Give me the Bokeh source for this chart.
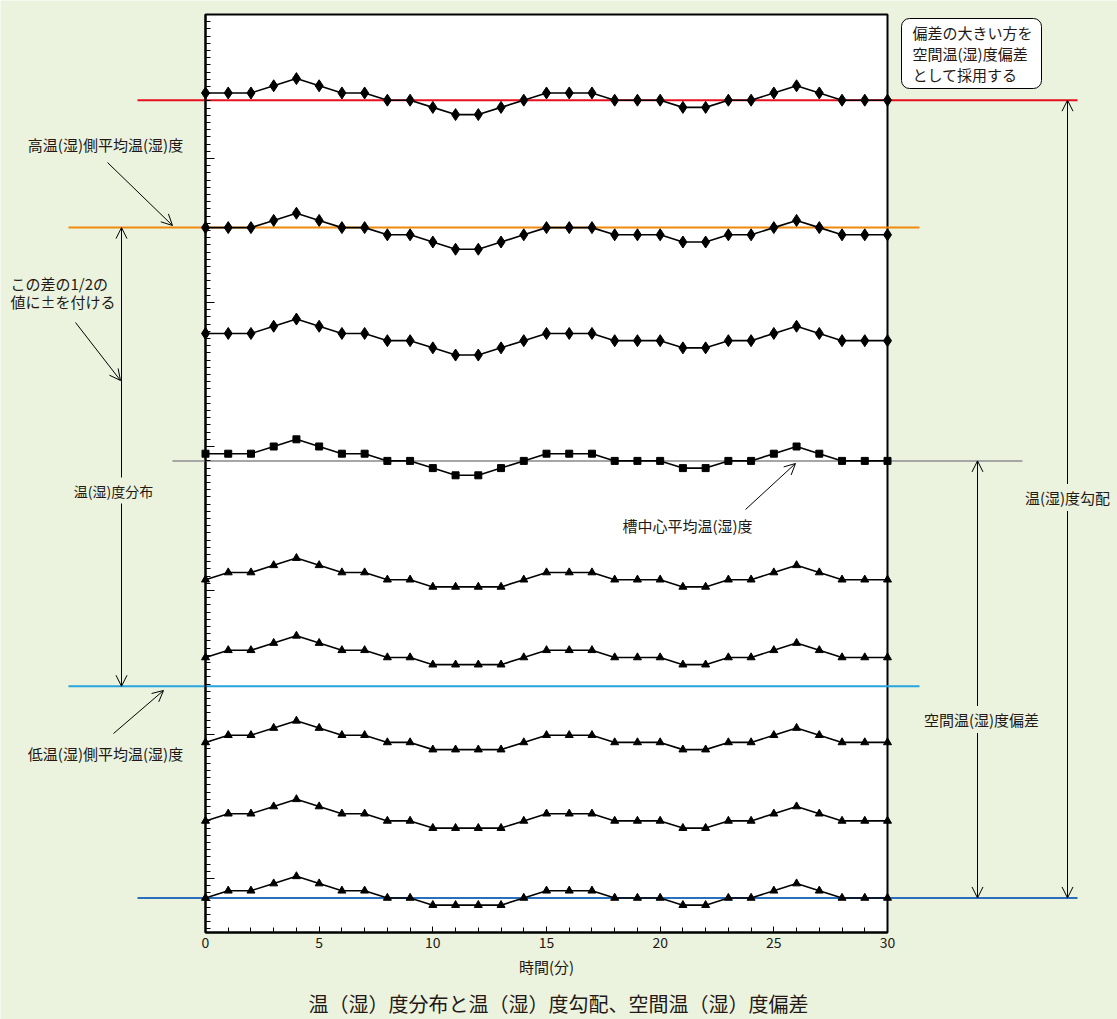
from bokeh.plotting import figure
from bokeh.models import (Range1d, LinearAxis, SingleIntervalTicker, FixedTicker,
                          Arrow, OpenHead, Label, BoxAnnotation)
from bokeh.embed import file_html
from bokeh.resources import INLINE

# ---------------- data ----------------
minutes = list(range(31))

# high-side diamonds
diamond_1 = [116.6, 116.6, 116.6, 117.6, 118.6, 117.6, 116.6, 116.6, 115.6, 115.6, 114.6, 113.6, 113.6, 114.6, 115.6, 116.6,
             116.6, 116.6, 115.6, 115.6, 115.6, 114.6, 114.6, 115.6, 115.6, 116.6, 117.6, 116.6, 115.6, 115.6, 115.6]
diamond_2 = [97.9, 97.9, 97.9, 98.9, 99.9, 98.9, 97.9, 97.9, 96.9, 96.9, 95.9, 94.9, 94.9, 95.9, 96.9, 97.9,
             97.9, 97.9, 96.9, 96.9, 96.9, 95.9, 95.9, 96.9, 96.9, 97.9, 98.9, 97.9, 96.9, 96.9, 96.9]
diamond_3 = [83.2, 83.2, 83.2, 84.2, 85.2, 84.2, 83.2, 83.2, 82.2, 82.2, 81.2, 80.2, 80.2, 81.2, 82.2, 83.2,
             83.2, 83.2, 82.2, 82.2, 82.2, 81.2, 81.2, 82.2, 82.2, 83.2, 84.2, 83.2, 82.2, 82.2, 82.2]
# center squares
square_center = [66.5, 66.5, 66.5, 67.5, 68.5, 67.5, 66.5, 66.5, 65.5, 65.5, 64.5, 63.5, 63.5, 64.5, 65.5, 66.5,
                 66.5, 66.5, 65.5, 65.5, 65.5, 64.5, 64.5, 65.5, 65.5, 66.5, 67.5, 66.5, 65.5, 65.5, 65.5]
# low-side triangles
triangle_1 = [49.0, 50.0, 50.0, 51.0, 52.0, 51.0, 50.0, 50.0, 49.0, 49.0, 48.0, 48.0, 48.0, 48.0, 49.0, 50.0,
              50.0, 50.0, 49.0, 49.0, 49.0, 48.0, 48.0, 49.0, 49.0, 50.0, 51.0, 50.0, 49.0, 49.0, 49.0]
triangle_2 = [38.2, 39.2, 39.2, 40.2, 41.2, 40.2, 39.2, 39.2, 38.2, 38.2, 37.2, 37.2, 37.2, 37.2, 38.2, 39.2,
              39.2, 39.2, 38.2, 38.2, 38.2, 37.2, 37.2, 38.2, 38.2, 39.2, 40.2, 39.2, 38.2, 38.2, 38.2]
triangle_3 = [26.4, 27.4, 27.4, 28.4, 29.4, 28.4, 27.4, 27.4, 26.4, 26.4, 25.4, 25.4, 25.4, 25.4, 26.4, 27.4,
              27.4, 27.4, 26.4, 26.4, 26.4, 25.4, 25.4, 26.4, 26.4, 27.4, 28.4, 27.4, 26.4, 26.4, 26.4]
triangle_4 = [15.5, 16.5, 16.5, 17.5, 18.5, 17.5, 16.5, 16.5, 15.5, 15.5, 14.5, 14.5, 14.5, 14.5, 15.5, 16.5,
              16.5, 16.5, 15.5, 15.5, 15.5, 14.5, 14.5, 15.5, 15.5, 16.5, 17.5, 16.5, 15.5, 15.5, 15.5]
triangle_5 = [4.8, 5.8, 5.8, 6.8, 7.8, 6.8, 5.8, 5.8, 4.8, 4.8, 3.8, 3.8, 3.8, 3.8, 4.8, 5.8,
              5.8, 5.8, 4.8, 4.8, 4.8, 3.8, 3.8, 4.8, 4.8, 5.8, 6.8, 5.8, 4.8, 4.8, 4.8]

# reference levels: max, high-side mean, center mean, low-side mean, min
ref_names = ["max", "high_mean", "center_mean", "low_mean", "min"]
ref_values = [115.6, 97.9, 65.5, 34.2, 4.8]
ref_colors = ["#e60f1e", "#f08a0c", "#a6a6a6", "#27a4de", "#2a6fbd"]

x_tick_interval = 5
x_label = "時間(分)"
title_text = "温（湿）度分布と温（湿）度勾配、空間温（湿）度偏差"
note_lines = ["偏差の大きい方を", "空間温(湿)度偏差", "として採用する"]

# ---------------- layout helpers (pixel -> data for annotations) ----------------
XS = 682 / 30.0      # px per minute
YS = 7.2             # px per unit
def dx(px):
    return (px - 205) / XS
def dy(py):
    return (932 - py) / YS

BG = "#ebf3de"
FONT = "Noto Sans CJK JP"
INK = "#231815"

W, H = 1117, 1019
p = figure(width=W, height=H, output_backend="svg", toolbar_location=None,
           x_range=Range1d(dx(0), dx(W)), y_range=Range1d(dy(H), dy(0)),
           x_axis_type=None, y_axis_type=None, min_border=0)
p.background_fill_color = BG
p.border_fill_color = BG
p.outline_line_color = None
p.grid.visible = False

top_val = dy(14)
# white plotting box
p.quad(left=[0], right=[30], bottom=[0], top=[top_val], fill_color="white",
       line_color="black", line_width=2)

# axes
xaxis = LinearAxis(fixed_location=0, bounds=(0, 30),
                   ticker=SingleIntervalTicker(interval=x_tick_interval, num_minor_ticks=5))
xaxis.axis_line_width = 2
xaxis.axis_line_color = "black"
xaxis.major_tick_in = 6
xaxis.major_tick_out = 0
xaxis.minor_tick_in = 5
xaxis.minor_tick_out = 0
xaxis.major_tick_line_color = "black"
xaxis.minor_tick_line_color = "black"
xaxis.major_label_text_font = FONT
xaxis.major_label_text_font_size = "14px"
xaxis.major_label_text_color = INK
xaxis.major_label_standoff = 4
xaxis.axis_label = x_label
xaxis.axis_label_text_font = FONT
xaxis.axis_label_text_font_size = "15px"
xaxis.axis_label_text_font_style = "normal"
xaxis.axis_label_text_color = INK
xaxis.axis_label_standoff = 5
p.add_layout(xaxis, "below")

minor_y = [top_val - k for k in range(1, 128)]
major_y = [top_val - k for k in range(20, 128, 20)]
yaxis = LinearAxis(fixed_location=0, bounds=(0, top_val),
                   ticker=FixedTicker(ticks=major_y, minor_ticks=minor_y))
yaxis.axis_line_width = 2
yaxis.axis_line_color = "black"
yaxis.major_tick_in = 9
yaxis.major_tick_out = 0
yaxis.minor_tick_in = 5
yaxis.minor_tick_out = 0
yaxis.major_tick_line_color = "black"
yaxis.minor_tick_line_color = "black"
yaxis.major_label_text_color = None
p.add_layout(yaxis, "left")

# reference lines (extend outside the box)
ref_x0 = [dx(137), dx(68), dx(172), dx(68), dx(137)]
ref_x1 = [dx(1077), dx(919), dx(1022), dx(919), dx(1077)]
p.segment(x0=ref_x0, y0=ref_values, x1=ref_x1, y1=ref_values, line_color=ref_colors, line_width=2)

# series
for ys in [diamond_1, diamond_2, diamond_3]:
    p.line(minutes, ys, line_color="black", line_width=1.6)
    p.scatter(minutes, ys, marker="diamond", size=12, color="black")
p.line(minutes, square_center, line_color="black", line_width=1.6)
p.scatter(minutes, square_center, marker="square", size=7, color="black")
for ys in [triangle_1, triangle_2, triangle_3, triangle_4, triangle_5]:
    p.line(minutes, ys, line_color="black", line_width=1.6)
    p.scatter(minutes, ys, marker="triangle", size=8, color="black")

# arrows
def arrow(x0, y0, x1, y1, both=False):
    a = Arrow(end=OpenHead(size=11, line_width=1, line_color="black"),
              start=OpenHead(size=11, line_width=1, line_color="black") if both else None,
              x_start=x0, y_start=y0, x_end=x1, y_end=y1, line_width=1, line_color="black")
    p.add_layout(a)

arrow(dx(121), ref_values[1], dx(121), ref_values[3], both=True)
arrow(dx(977), ref_values[2], dx(977), ref_values[4], both=True)
arrow(dx(1067), ref_values[0], dx(1067), ref_values[4], both=True)
arrow(dx(107), dy(162), dx(172), dy(225))
arrow(dx(75), dy(322), dx(120), dy(380))
arrow(dx(113), dy(733), dx(163), dy(690))
arrow(dx(745), dy(509), dx(795), dy(463))

def label(px, py, text, align="center", bg=None, size="15px"):
    kw = {}
    if bg is not None:
        kw = dict(background_fill_color=bg, padding=3)
    lab = Label(x=dx(px), y=dy(py), text=text, text_align=align, text_baseline="middle",
                text_font=FONT, text_font_size=size, text_color=INK, **kw)
    p.add_layout(lab)

label(105, 144, "高温(湿)側平均温(湿)度")
label(10, 283, "この差の1/2の", align="left")
label(10, 301, "値に±を付ける", align="left")
label(113, 490, "温(湿)度分布", bg=BG, size="14px")
label(105, 753, "低温(湿)側平均温(湿)度")
label(687, 525, "槽中心平均温(湿)度")
label(981, 719, "空間温(湿)度偏差", bg=BG)
label(1067, 497, "温(湿)度勾配", bg=BG)

# note box (rounded)
note = BoxAnnotation(left=dx(901), right=dx(1041), top=dy(18), bottom=dy(88),
                     fill_color="white", fill_alpha=1.0, line_color="black", line_width=1,
                     line_alpha=1.0, border_radius=8)
p.add_layout(note)
for i, t in enumerate(note_lines):
    label(912, 32 + 21 * i, t, align="left")

title = Label(x=dx(558), y=dy(1003), text=title_text, text_align="center", text_baseline="middle",
              text_font=FONT, text_font_size="20px", text_color=INK)
p.add_layout(title)

html = file_html(p, INLINE, "chart")
html = html.replace("<body>", '<body style="background-color:%s">' % BG, 1)
open("out.html", "w").write(html)
